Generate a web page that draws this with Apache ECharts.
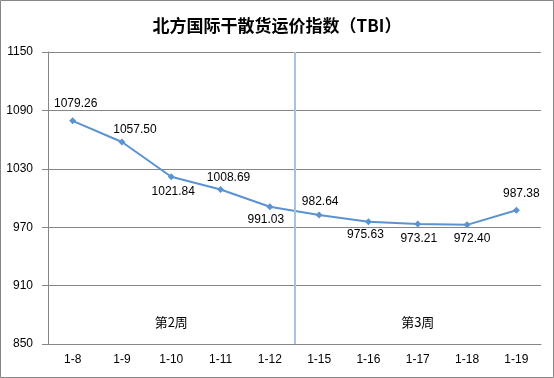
<!DOCTYPE HTML>
<html lang="zh">
<head>
<meta charset="utf-8">
<title>北方国际干散货运价指数（TBI）</title>
<style>
html, body {
  margin: 0;
  background: #fff;
}
#chart {
  width: 554px;
  height: 378px;
}
</style>
</head>
<body>
<div id="chart"></div>
<script src="https://cdn.jsdelivr.net/npm/echarts@6/dist/echarts.min.js"></script>
<script>
var days = ['1-8', '1-9', '1-10', '1-11', '1-12', '1-15', '1-16', '1-17', '1-18', '1-19'];
var tbi = [1079.26, 1057.50, 1021.84, 1008.69, 991.03, 982.64, 975.63, 973.21, 972.40, 987.38];
var weeks = ['第2周', '第3周'];
var weekDays = [5, 5]; // trading days in each week
var yTicks = [850, 910, 970, 1030, 1090, 1150];

// where each value label sits, like in the excel sheet
var labelOffsets = [[3, -17], [13, -12], [2, 15], [8, -12], [-4, 13], [1, -13], [-3, 13], [1, 15], [5, 14], [5, -17]];

var gray = '#868686';
var font = 'Liberation Sans, Arial, sans-serif';

// week ranges on a hidden value axis that runs over the category bands
var weekAreas = [];
var weekBreaks = [];
var pos = 0;
weeks.forEach(function (w, i) {
  weekAreas.push([{ name: w, xAxis: pos }, { xAxis: pos + weekDays[i] }]);
  pos += weekDays[i];
  if (i < weeks.length - 1) weekBreaks.push({ xAxis: pos });
});

var chart = echarts.init(document.getElementById('chart'));
chart.setOption({
  animation: false,
  title: {
    text: '北方国际干散货运价指数（TBI）',
    left: 'center',
    top: 12,
    textStyle: {
      fontFamily: 'Noto Sans CJK SC',
      fontSize: 17,
      fontWeight: 'bold',
      color: '#000'
    }
  },
  graphic: [{
    type: 'rect',
    shape: { x: 0.5, y: 0.5, width: 553, height: 377 },
    style: { fill: 'none', stroke: gray, lineWidth: 1 },
    silent: true
  }],
  grid: {
    left: 48,
    right: 13,
    top: 52,
    bottom: 34
  },
  xAxis: [{
    type: 'category',
    data: days,
    axisLine: { lineStyle: { color: gray } },
    axisTick: { length: 5, lineStyle: { color: gray } },
    axisLabel: { color: '#000', fontFamily: font, fontSize: 12, margin: 10 }
  }, {
    type: 'value',
    show: false,
    min: 0,
    max: days.length
  }],
  yAxis: {
    type: 'value',
    min: yTicks[0],
    max: yTicks[yTicks.length - 1],
    interval: 60,
    axisLine: { show: true, lineStyle: { color: gray } },
    axisTick: { show: true, length: 6, lineStyle: { color: gray } },
    axisLabel: {
      color: '#000', fontFamily: font, fontSize: 12, margin: 15,
      formatter: function (v) { return String(v); }
    },
    splitLine: { lineStyle: { color: gray } }
  },
  series: [{
    name: 'weeks',
    type: 'line',
    xAxisIndex: 1,
    data: [],
    silent: true,
    markLine: {
      silent: true,
      symbol: ['none', 'none'],
      label: { show: false },
      lineStyle: { color: '#a7c4de', width: 2, type: 'solid' },
      data: weekBreaks
    },
    markArea: {
      silent: true,
      itemStyle: { color: 'rgba(0,0,0,0)' },
      label: {
        position: 'insideBottom',
        distance: 15,
        color: '#000',
        fontFamily: 'Noto Sans CJK SC',
        fontSize: 13
      },
      data: weekAreas
    }
  }, {
    name: 'TBI',
    type: 'line',
    data: tbi.map(function (v, i) {
      return {
        value: v,
        label: { offset: labelOffsets[i] }
      };
    }),
    symbol: 'diamond',
    symbolSize: 7,
    itemStyle: { color: '#5a93d0' },
    lineStyle: { color: '#5a93d0', width: 2 },
    label: {
      show: true,
      position: 'inside',
      formatter: function (p) { return p.value.toFixed(2); },
      color: '#000',
      fontFamily: font,
      fontSize: 12
    }
  }]
});
</script>
</body>
</html>
